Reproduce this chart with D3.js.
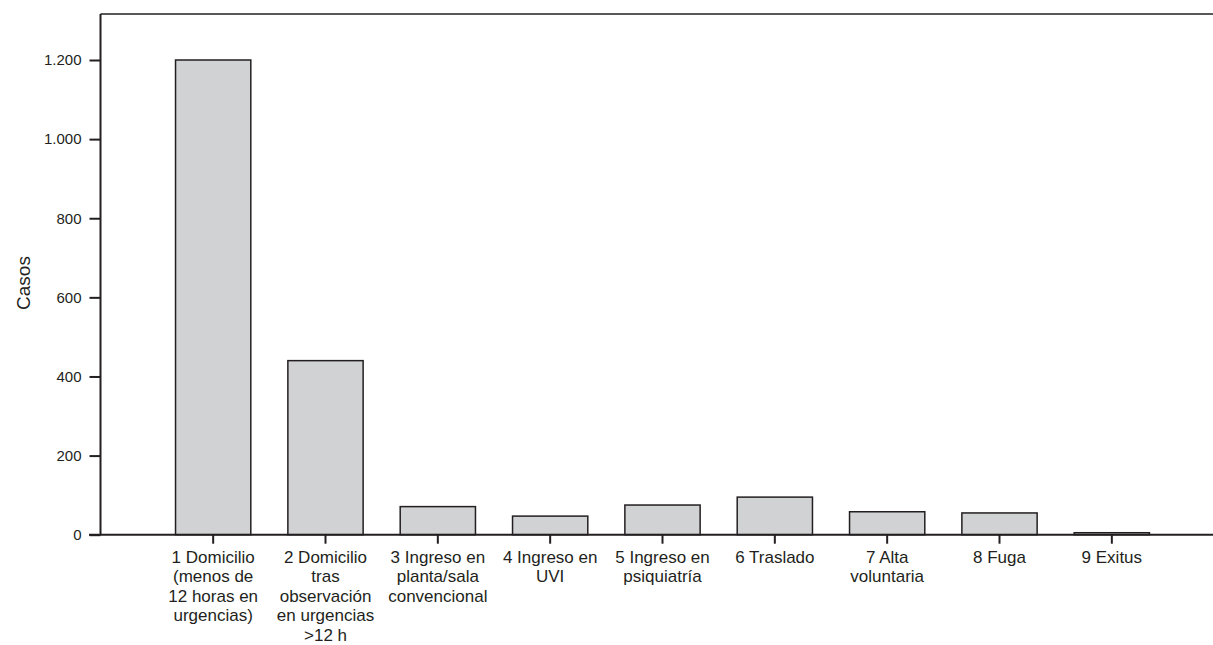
<!DOCTYPE html>
<html>
<head>
<meta charset="utf-8">
<script src="https://cdn.jsdelivr.net/npm/d3@7"></script>
<style>
  body { margin: 0; background: #fff; }
  svg { display: block; }
</style>
</head>
<body>
<div id="chart"></div>
<script>
var width = 1213, height = 645;

var categories = ["1", "2", "3", "4", "5", "6", "7", "8", "9"];
var labels = [
  ["1 Domicilio", "(menos de", "12 horas en", "urgencias)"],
  ["2 Domicilio", "tras", "observación", "en urgencias", ">12 h"],
  ["3 Ingreso en", "planta/sala", "convencional"],
  ["4 Ingreso en", "UVI"],
  ["5 Ingreso en", "psiquiatría"],
  ["6 Traslado"],
  ["7 Alta", "voluntaria"],
  ["8 Fuga"],
  ["9 Exitus"]
];
var casos = [1200, 440, 71, 47, 75, 95, 58, 55, 5];
var yTicks = [0, 200, 400, 600, 800, 1000, 1200];

var ink = "#231f20";
var font = "'Liberation Sans', Arial, sans-serif";

var svg = d3.select("#chart")
  .append("svg")
    .attr("width", width)
    .attr("height", height)
    .style("font-family", font);

var x = d3.scaleBand()
  .domain(categories)
  .range([157, 1168])
  .paddingInner(0.33)
  .paddingOuter(0.165);

var y = d3.scaleLinear()
  .domain([0, 1200])
  .range([534.7, 60]);

var fmt = function(d) { return d3.format(",")(d).replace(/,/g, "."); };

// frame: top line
svg.append("line")
  .attr("x1", 100.5).attr("x2", width)
  .attr("y1", 14).attr("y2", 14)
  .attr("stroke", ink).attr("stroke-width", 1.5);

// bars
svg.append("g").selectAll("rect")
  .data(casos)
  .enter().append("rect")
    .attr("x", function(d, i) { return x(categories[i]); })
    .attr("width", x.bandwidth())
    .attr("y", function(d) { return y(d); })
    .attr("height", function(d) { return y(0) - y(d); })
    .attr("fill", "#d1d2d4")
    .attr("stroke", ink)
    .attr("stroke-width", 1.5);

// y axis
var yAxis = svg.append("g")
  .attr("transform", "translate(100.5,0)")
  .call(d3.axisLeft(y).tickValues(yTicks).tickFormat(fmt).tickSize(11).tickPadding(8));
yAxis.select(".domain").attr("d", "M0,14V" + y(0)).attr("stroke", ink).attr("stroke-width", 2);
yAxis.selectAll(".tick line").attr("stroke", ink).attr("stroke-width", 2);
yAxis.selectAll(".tick text")
  .attr("fill", ink)
  .style("font-family", font)
  .style("font-size", "15px");

// x axis
var xAxis = svg.append("g")
  .attr("transform", "translate(0," + y(0) + ")")
  .call(d3.axisBottom(x).tickSize(9).tickFormat(""));
xAxis.select(".domain").attr("d", "M89,0H" + width).attr("stroke", ink).attr("stroke-width", 2);
xAxis.selectAll(".tick line").attr("stroke", ink).attr("stroke-width", 2);

xAxis.selectAll(".tick").each(function(d, i) {
  var t = d3.select(this).append("text")
    .attr("text-anchor", "middle")
    .attr("fill", ink)
    .style("font-family", font)
    .style("font-size", "17px");
  labels[i].forEach(function(line, j) {
    t.append("tspan")
      .attr("x", 0)
      .attr("y", 28 + j * 19.5)
      .text(line);
  });
});

// y label
svg.append("text")
  .attr("transform", "translate(29.5,283) rotate(-90)")
  .attr("text-anchor", "middle")
  .attr("fill", ink)
  .style("font-size", "19px")
  .text("Casos");
</script>
</body>
</html>
